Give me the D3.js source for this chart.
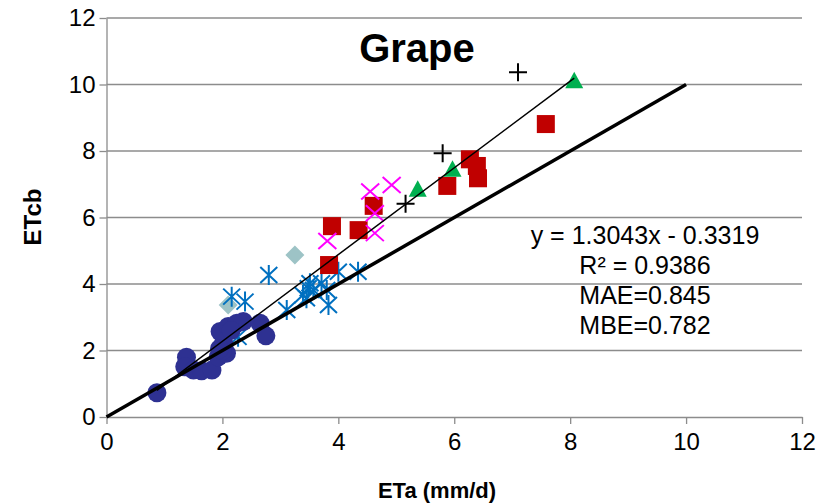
<!DOCTYPE html>
<html>
<head>
<meta charset="utf-8">
<script src="https://cdn.jsdelivr.net/npm/d3@7"></script>
<style>
  body { margin: 0; background: #fff; }
  svg { display: block; font-family: Arial, "Liberation Sans", sans-serif; }
  .axis path, .axis line { stroke: #8c8c8c; stroke-width: 1.3; }
  .axis text { fill: #000; font-size: 24px; }
  .grid line { stroke: #8c8c8c; stroke-width: 1.3; }
</style>
</head>
<body>
<div id="chart"></div>
<script>
// --- DATOS ---
const ticks = [0, 2, 4, 6, 8, 10, 12];
const titleText = "Grape";
const xLabel = "ETa (mm/d)";
const yLabel = "ETcb";

// series (ETa, ETcb)
const circles = [[0.87, 0.73], [1.38, 1.80], [1.35, 1.51], [1.50, 1.41], [1.64, 1.39], [1.82, 1.41],
  [1.93, 1.81], [2.07, 1.92], [2.02, 2.22], [1.96, 2.57], [2.10, 2.72], [2.25, 2.82], [2.36, 2.87],
  [2.65, 2.82], [2.75, 2.44], [2.00, 2.00], [2.15, 2.60], [1.95, 2.05]];
const stars = [[2.16, 3.62], [2.39, 3.47], [2.80, 4.27], [3.11, 3.22], [3.39, 3.67], [3.48, 3.87],
  [3.45, 3.57], [3.57, 3.82], [3.51, 4.02], [3.71, 4.02], [3.80, 3.82], [3.83, 3.37], [4.00, 4.37],
  [4.34, 4.37], [2.27, 2.41]];
const diamonds = [[3.25, 4.87], [2.10, 3.37]];
const crosses = [[4.55, 6.78], [4.92, 6.98], [4.63, 6.13], [4.63, 5.53], [3.81, 5.29]];
const squares = [[4.61, 6.35], [3.89, 5.74], [4.35, 5.62], [3.84, 4.57], [7.58, 8.81], [6.27, 7.75],
  [6.39, 7.55], [6.41, 7.18], [5.88, 6.95]];
const triangles = [[8.07, 10.11], [5.97, 7.45], [5.37, 6.85]];
const pluses = [[7.10, 10.37], [5.80, 7.93], [5.16, 6.41]];

const slope = 1.3043, intercept = -0.3319;
const oneToOne = [0, 10];
const statLines = ["y = 1.3043x - 0.3319", "R² = 0.9386", "MAE=0.845", "MBE=0.782"];

// --- D3 ---
const width = 821, height = 504;
const svg = d3.select("#chart").append("svg")
  .attr("width", width).attr("height", height);

const x = d3.scaleLinear().domain([0, 12]).range([106.5, 802]);
const y = d3.scaleLinear().domain([0, 12]).range([417, 18]);

// lineas de grilla
svg.append("g").attr("class", "grid")
  .selectAll("line").data(ticks.filter(t => t > 0)).join("line")
  .attr("x1", x(0)).attr("x2", x(12))
  .attr("y1", d => y(d)).attr("y2", d => y(d));

svg.append("g").attr("class", "axis")
  .attr("transform", `translate(${x(0)},0)`)
  .call(d3.axisLeft(y).tickValues(ticks).tickSize(7).tickPadding(4).tickSizeOuter(0));

svg.append("g").attr("class", "axis")
  .attr("transform", `translate(0,${y(0)})`)
  .call(d3.axisBottom(x).tickValues(ticks).tickSize(7).tickPadding(9).tickSizeOuter(0));

// titulos
svg.append("text")
  .attr("x", 417).attr("y", 62)
  .attr("text-anchor", "middle")
  .attr("font-size", 40).attr("font-weight", "bold")
  .text(titleText);

svg.append("text")
  .attr("x", 437).attr("y", 498)
  .attr("text-anchor", "middle")
  .attr("font-size", 22).attr("font-weight", "bold")
  .text(xLabel);

svg.append("text")
  .attr("transform", "translate(41,217) rotate(-90)")
  .attr("text-anchor", "middle")
  .attr("font-size", 24).attr("font-weight", "bold")
  .text(yLabel);

// marcadores
const pos = d => `translate(${x(d[0])},${y(d[1])})`;
const gMarks = svg.append("g");

gMarks.selectAll(".diamond").data(diamonds).join("path")
  .attr("transform", pos)
  .attr("d", "M0,-9.5L9.5,0L0,9.5L-9.5,0Z")
  .attr("fill", "#9dc3c6");

gMarks.selectAll(".star").data(stars).join("path")
  .attr("transform", pos)
  .attr("d", "M0,-10V10M-8.5,-8L8.5,8M-8.5,8L8.5,-8")
  .attr("fill", "none").attr("stroke", "#0070c0").attr("stroke-width", 2);

gMarks.selectAll(".circ").data(circles).join("circle")
  .attr("transform", pos)
  .attr("r", 9.5)
  .attr("fill", "#2e3192");

gMarks.selectAll(".sq").data(squares).join("rect")
  .attr("transform", pos)
  .attr("x", -9).attr("y", -9).attr("width", 18).attr("height", 18)
  .attr("fill", "#c00000");

gMarks.selectAll(".cross").data(crosses).join("path")
  .attr("transform", pos)
  .attr("d", "M-9,-8L9,8M-9,8L9,-8")
  .attr("fill", "none").attr("stroke", "#ff00ff").attr("stroke-width", 2);

gMarks.selectAll(".tri").data(triangles).join("path")
  .attr("transform", pos)
  .attr("d", "M0,-9L9,7.5L-9,7.5Z")
  .attr("fill", "#00b050");

gMarks.selectAll(".plus").data(pluses).join("path")
  .attr("transform", pos)
  .attr("d", "M-9,0H9M0,-9V9")
  .attr("fill", "none").attr("stroke", "#000").attr("stroke-width", 2);

// lineas
const allX = [circles, stars, diamonds, crosses, squares, triangles, pluses].flat().map(d => d[0]);
const xMin = d3.min(allX), xMax = d3.max(allX);
const line = d3.line().x(d => x(d[0])).y(d => y(d[1]));

svg.append("path")
  .datum(oneToOne.map(v => [v, v]))
  .attr("d", line)
  .attr("fill", "none").attr("stroke", "#000").attr("stroke-width", 3.5);

svg.append("path")
  .datum([xMin, xMax].map(v => [v, slope * v + intercept]))
  .attr("d", line)
  .attr("fill", "none").attr("stroke", "#000").attr("stroke-width", 1.5);

// ecuacion
svg.append("g").selectAll("text").data(statLines).join("text")
  .attr("x", 645).attr("y", (d, i) => 244 + i * 30)
  .attr("text-anchor", "middle")
  .attr("font-size", 25)
  .text(d => d);
</script>
</body>
</html>
